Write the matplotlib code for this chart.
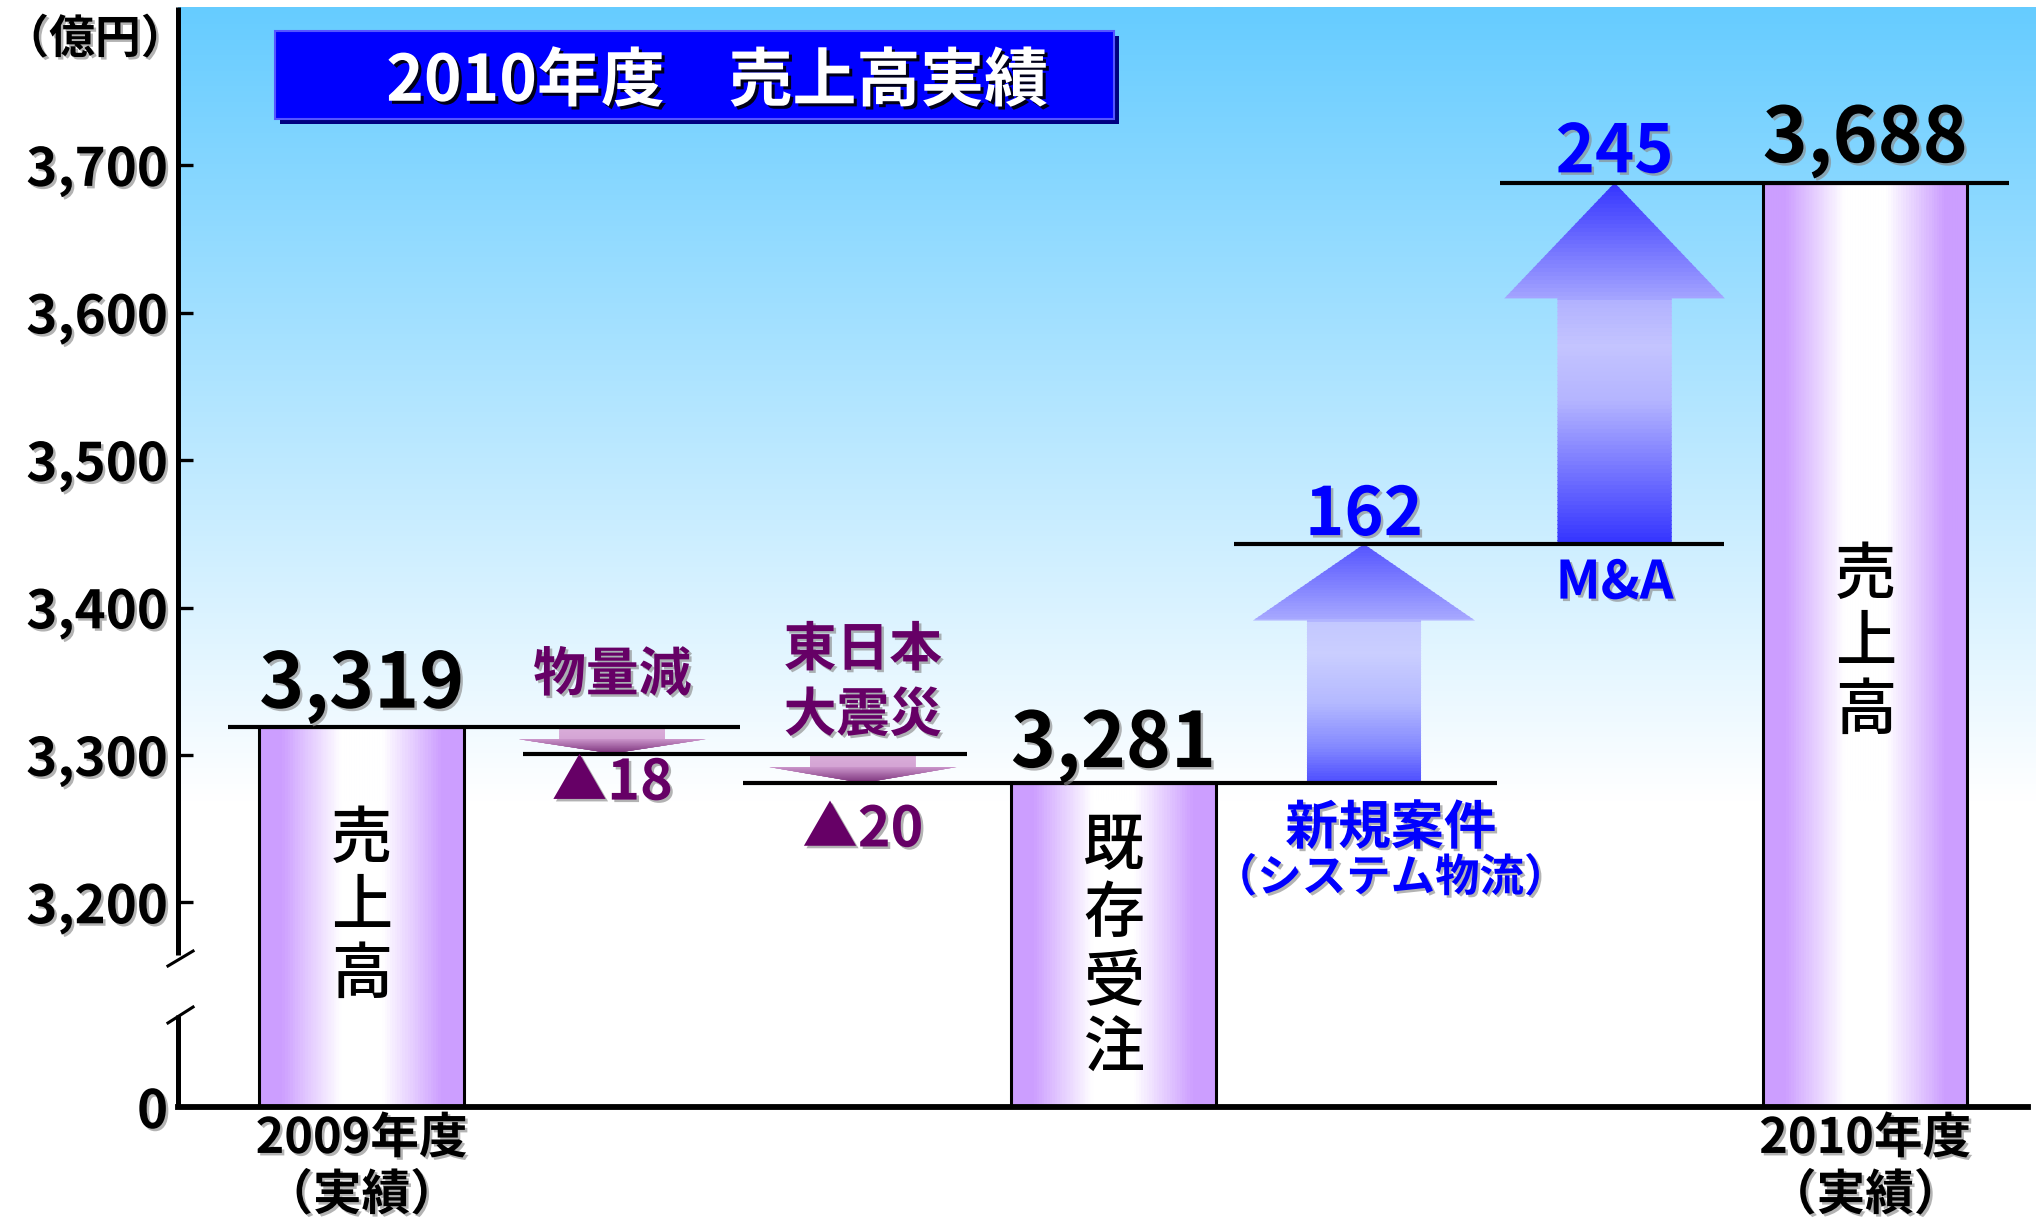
import numpy as np
import matplotlib
matplotlib.use("Agg")
import matplotlib.pyplot as plt
import matplotlib.patheffects as pe
from matplotlib.patches import Rectangle, Polygon
from matplotlib.collections import PolyCollection
from matplotlib.ticker import NullLocator

plt.rcParams['font.family'] = ['Noto Sans CJK JP', 'DejaVu Sans']

# ---------------- data ----------------
sales_2009 = 3319
decrease_labels = ["物量減", "東日本\n大震災"]
decreases = [-18, -20]
existing_orders = 3281
increase_labels = ["新規案件", "M&A"]
increase_sublabel = "（システム物流）"
increases = [162, 245]
sales_2010 = 3688
ytick_values = [0, 3200, 3300, 3400, 3500, 3600, 3700]
ytick_labels = ["0", "3,200", "3,300", "3,400", "3,500", "3,600", "3,700"]
xtick_labels = ["2009年度\n（実績）", "2010年度\n（実績）"]
bar_texts = ["売\n上\n高", "既\n存\n受\n注", "売\n上\n高"]
title_text = "2010年度　売上高実績"
unit_text = "（億円）"

# ---------------- layout ----------------
W, H = 2036, 1222
bar_x = [0, 3, 6]
dec_x = [1, 2]
inc_x = [4, 5]
bar_w = 0.815

U0, BRK = 3061.3, 3100.0


def fwd(v):
    v = np.asarray(v, dtype=float)
    return np.where(v >= BRK, v, U0 + v * (BRK - U0) / BRK)


def inv(u):
    u = np.asarray(u, dtype=float)
    return np.where(u >= BRK, u, (u - U0) * BRK / (BRK - U0))


fig = plt.figure(figsize=(W / 100, H / 100), dpi=100)
ax = fig.add_axes([178 / W, 1 - 1107 / H, 1 - 178 / W, 1100 / H])
ax.set_yscale('function', functions=(fwd, inv))

# background gradient
top = np.array([102, 204, 255]) / 255.0
n = 300
fr = np.linspace(1, 0, n)
t = np.clip((1 - fr) / (1 - 0.279), 0, 1)
cols = top[None, :] * (1 - t[:, None]) + t[:, None]
ax.imshow(cols[:, None, :], extent=[0, 1, 0, 1], transform=ax.transAxes,
          aspect='auto', zorder=0, interpolation='bilinear')

shadow = [pe.withSimplePatchShadow(offset=(1.8, -1.8), shadow_rgbFace='#8a8a8a', alpha=0.65)]


def gradient_bar(x, h):
    nn = 80
    xs = np.linspace(x - bar_w / 2, x + bar_w / 2, nn + 1)
    purple = np.array([204, 158, 255]) / 255.0
    verts, cs = [], []
    for i in range(nn):
        xm = (i + 0.5) / nn
        d = abs(xm - 0.5) / 0.5
        s = np.clip((d - 0.2) / 0.58, 0, 1)
        c = (1 - s) * np.ones(3) + s * purple
        verts.append([(xs[i], 0), (xs[i + 1], 0), (xs[i + 1], h), (xs[i], h)])
        cs.append(c)
    pc = PolyCollection(verts, facecolors=cs, edgecolors=cs, linewidths=0.6, zorder=2)
    ax.add_collection(pc)
    ax.bar(x, h, width=bar_w, bottom=0, facecolor='none', edgecolor='black',
           linewidth=2.2, zorder=3)


def interp_color(tt, stops):
    ts = [s[0] for s in stops]
    rgb = np.array([s[1] for s in stops]) / 255.0
    return np.array([np.interp(tt, ts, rgb[:, k]) for k in range(3)])


def gradient_arrow(xc, y0, y1, stops, hw, sw, hfrac):
    yh = y1 - hfrac * (y1 - y0)
    poly = Polygon([(xc - sw, y0), (xc + sw, y0), (xc + sw, yh), (xc + hw, yh),
                    (xc, y1), (xc - hw, yh), (xc - sw, yh)], closed=True,
                   facecolor='none', edgecolor='none', zorder=2)
    ax.add_patch(poly)
    nn = 90
    ys = np.linspace(y0, y1, nn + 1)
    verts, cs = [], []
    for i in range(nn):
        tt = (i + 0.5) / nn
        c = interp_color(tt, stops)
        verts.append([(xc - hw, ys[i]), (xc + hw, ys[i]), (xc + hw, ys[i + 1]), (xc - hw, ys[i + 1])])
        cs.append(c)
    pc = PolyCollection(verts, facecolors=cs, edgecolors=cs, linewidths=0.6, zorder=2)
    ax.add_collection(pc)
    pc.set_clip_path(poly)


down_stops = [(0, (218, 174, 218)), (0.45, (212, 164, 212)), (0.47, (200, 146, 200)),
              (1, (122, 48, 122))]
new_stops = [(0, (75, 75, 255)), (0.15, (130, 135, 255)), (0.34, (180, 185, 255)),
             (0.55, (202, 206, 255)), (0.68, (195, 200, 255)), (0.685, (168, 170, 255)),
             (1, (85, 85, 255))]
ma_stops = [(0, (50, 50, 255)), (0.2, (115, 115, 255)), (0.4, (180, 180, 255)),
            (0.55, (196, 196, 255)), (0.675, (178, 178, 255)), (0.68, (165, 165, 255)),
            (1, (52, 52, 255))]

# levels
lvl_a = sales_2009 + decreases[0]
lvl_b = lvl_a + decreases[1]
lvl_c = existing_orders + increases[0]
lvl_d = lvl_c + increases[1]

# bars
for x, h in zip(bar_x, [sales_2009, existing_orders, sales_2010]):
    gradient_bar(x, h)

# arrows
gradient_arrow(dec_x[0], sales_2009, lvl_a, down_stops, 0.373, 0.21, 0.54)
gradient_arrow(dec_x[1], lvl_a, lvl_b, down_stops, 0.373, 0.21, 0.54)
gradient_arrow(inc_x[0], existing_orders, lvl_c, new_stops, 0.443, 0.2275, 0.32)
gradient_arrow(inc_x[1], lvl_c, lvl_d, ma_stops, 0.44, 0.228, 0.32)

# level lines
spans = [(-0.532, 1.510), (0.645, 2.416), (1.521, 4.531), (3.480, 5.438), (4.542, 6.573)]
for lv, (xs_, xe_) in zip([sales_2009, lvl_a, existing_orders, lvl_c, lvl_d], spans):
    ax.hlines(lv, xs_, xe_, color='black', linewidth=3.0, zorder=4)

# limits / scale
ax.set_xlim((178 - 361.6) / 250.6, (2036 - 361.6) / 250.6)
ax.set_ylim(0, 3807.2)

# axes styling
for s in ['top', 'right', 'left']:
    ax.spines[s].set_visible(False)
ax.spines['bottom'].set_linewidth(4.2)
ax.spines['bottom'].set_bounds(ax.get_xlim()[0], 6.65)
ax.spines['bottom'].set_zorder(5)

ax.plot([0, 0], [0.1382, 1.0], transform=ax.transAxes, color='black', lw=3.6,
        solid_capstyle='butt', clip_on=False, zorder=6)
ax.plot([0, 0], [0.0, 0.0836], transform=ax.transAxes, color='black', lw=3.6,
        solid_capstyle='butt', clip_on=False, zorder=6)
ax.plot([-0.0054, 0.0081], [0.1282, 0.1418], transform=ax.transAxes, color='black',
        lw=2.2, clip_on=False, zorder=6)
ax.plot([-0.0054, 0.0081], [0.0764, 0.0909], transform=ax.transAxes, color='black',
        lw=2.2, clip_on=False, zorder=6)

ax.set_yticks(ytick_values)
ax.set_yticklabels(ytick_labels, fontsize=38, fontweight='bold')
ax.yaxis.set_minor_locator(NullLocator())
ax.tick_params(axis='y', direction='in', length=11, width=2.4, pad=7, color='black')
for lbl in ax.get_yticklabels():
    lbl.set_path_effects(shadow)

ax.set_xticks([bar_x[0], bar_x[2]])
ax.set_xticklabels(xtick_labels, fontsize=35, fontweight='bold')
ax.xaxis.set_minor_locator(NullLocator())
ax.tick_params(axis='x', length=0, pad=5)
for lbl in ax.get_xticklabels():
    lbl.set_linespacing(1.2)
    lbl.set_path_effects(shadow)


def ann(txt, x, y, dy, va, size, color, weight='bold', ls=1.2):
    ax.annotate(txt, xy=(x, y), xytext=(0, dy), textcoords='offset points',
                ha='center', va=va, fontsize=size, color=color, fontweight=weight,
                linespacing=ls, multialignment='center', zorder=7,
                path_effects=shadow, annotation_clip=False)


# value labels
ann(f"{sales_2009:,}", bar_x[0], sales_2009, 13.9, 'baseline', 55, 'black')
ann(f"{existing_orders:,}", bar_x[1], existing_orders, 11.5, 'baseline', 55, 'black')
ann(f"{sales_2010:,}", bar_x[2], sales_2010, 14.9, 'baseline', 55, 'black')
ann(f"{increases[0]}", inc_x[0], lvl_c, 6.5, 'baseline', 48, '#0000FF')
ann(f"{increases[1]}", inc_x[1], lvl_d, 7.5, 'baseline', 48, '#0000FF')

purple = '#660066'
ann(decrease_labels[0], dec_x[0], sales_2009, 26, 'baseline', 38, purple)
ann(decrease_labels[1], dec_x[1], lvl_a, 16, 'baseline', 38, purple, ls=1.3)
ann(f"▲{abs(decreases[0])}", dec_x[0], lvl_a, -1.5, 'top', 40, purple)
ann(f"▲{abs(decreases[1])}", dec_x[1], lvl_b, -14, 'top', 40, purple)

ann(increase_labels[0], 4.107, existing_orders, -13.7, 'top', 38, '#0000FF')
ann(increase_sublabel, 4.107, existing_orders, -52, 'top', 32, '#0000FF')
ann(increase_labels[1], inc_x[1], lvl_c, -9, 'top', 38, '#0000FF')

# texts inside bars
for x, txt, yy in zip(bar_x, bar_texts, [3196.6, 3168.8, 3375.7]):
    ax.text(x, yy, txt, ha='center', va='center', fontsize=44, fontweight='medium',
            linespacing=1.1, color='black', zorder=7)

# title box
fig.add_artist(Rectangle((280 / W, 1 - 124 / H), 839 / W, 88 / H, transform=fig.transFigure,
                         facecolor='#000080', edgecolor='none', zorder=2))
fig.add_artist(Rectangle((275 / W, 1 - 119 / H), 839 / W, 88 / H, transform=fig.transFigure,
                         facecolor='#0000FF', edgecolor='#5555FF', linewidth=1.5, zorder=3))
fig.text(717 / W, 1 - 82 / H, title_text, ha='center', va='center', fontsize=46,
         fontweight='bold', color='white', zorder=4,
         path_effects=[pe.withSimplePatchShadow(offset=(2.2, -2.2), shadow_rgbFace='black', alpha=0.9)])

fig.text(95 / W, 1 - 40 / H, unit_text, ha='center', va='center', fontsize=33,
         fontweight='bold', color='black', zorder=4, path_effects=shadow)

fig.savefig('out.png', dpi=100)
